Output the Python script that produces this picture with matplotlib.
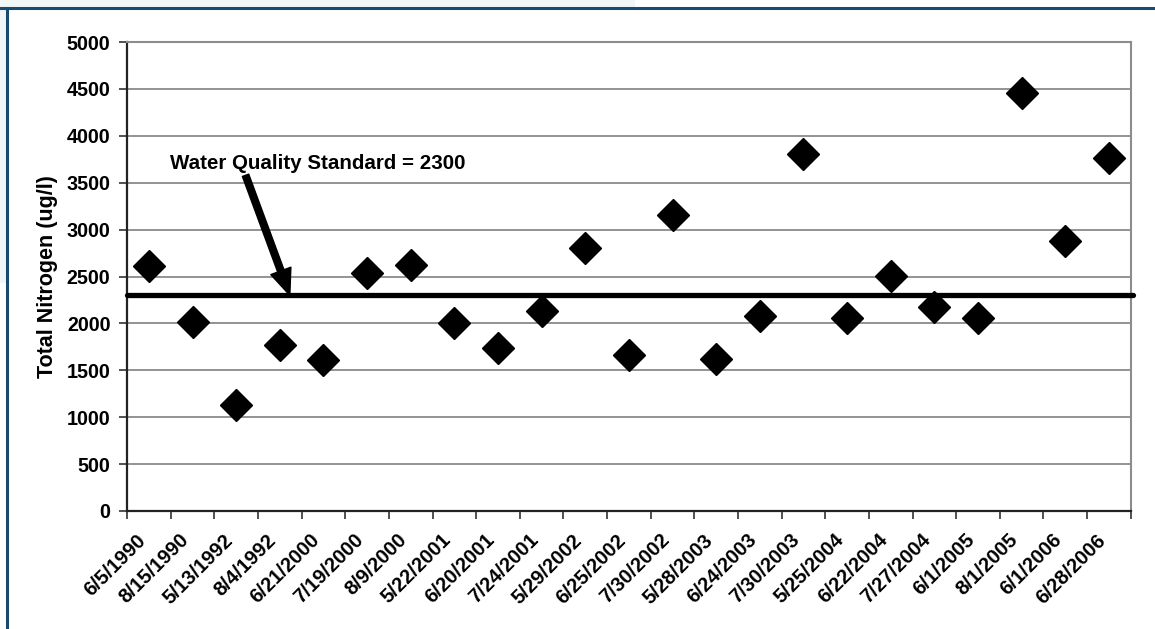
import matplotlib
matplotlib.use("Agg")
import matplotlib.pyplot as plt
from matplotlib.patches import Rectangle
from matplotlib.lines import Line2D

# sampling dates and total nitrogen results (ug/l)
dates = ["6/5/1990", "8/15/1990", "5/13/1992", "8/4/1992", "6/21/2000",
         "7/19/2000", "8/9/2000", "5/22/2001", "6/20/2001", "7/24/2001",
         "5/29/2002", "6/25/2002", "7/30/2002", "5/28/2003", "6/24/2003",
         "7/30/2003", "5/25/2004", "6/22/2004", "7/27/2004", "6/1/2005",
         "8/1/2005", "6/1/2006", "6/28/2006"]
total_nitrogen = [2610, 2015, 1135, 1765, 1605, 2535, 2625, 2000, 1740, 2135,
                  2800, 1665, 3155, 1625, 2080, 3805, 2060, 2510, 2175, 2060,
                  4455, 2880, 3765]
wq_standard = 2300
y_ticks = [0, 500, 1000, 1500, 2000, 2500, 3000, 3500, 4000, 4500, 5000]

plt.rcParams['font.family'] = ['Liberation Sans', 'DejaVu Sans']
plt.rcParams['font.weight'] = 'bold'

fig = plt.figure(figsize=(11.55, 6.29), dpi=100)
fig.patch.set_facecolor('white')

# light slide background strips and the dark blue frame
fig.patches.append(Rectangle((0, 0.985), 0.55, 0.015, transform=fig.transFigure,
                             facecolor='#f1f6f9', edgecolor='none', zorder=0))
fig.patches.append(Rectangle((0, 0.55), 0.005, 0.45, transform=fig.transFigure,
                             facecolor='#f1f6f9', edgecolor='none', zorder=0))
fig.lines.append(Line2D([0, 1], [0.988, 0.988], transform=fig.transFigure,
                        color='#1a4a6e', lw=2.2))
fig.lines.append(Line2D([0.0062, 0.0062], [0, 0.988], transform=fig.transFigure,
                        color='#1a4a6e', lw=2.2))

ax = fig.add_axes([0.110, 0.1876, 0.869, 0.7456])
x = list(range(len(dates)))

ax.plot(x, total_nitrogen, linestyle='none', marker='D', markersize=16,
        color='black', zorder=4, clip_on=False)
ax.plot([-0.5, len(dates) - 0.45], [wq_standard, wq_standard], color='black',
        lw=3.8, solid_capstyle='round', zorder=3, clip_on=False)

ax.annotate("Water Quality Standard = 2300", xy=(3.23, wq_standard),
            xytext=(0.485, 3710), textcoords='data', fontsize=14.8,
            fontweight='bold', va='center', ha='left', zorder=5,
            arrowprops=dict(arrowstyle='simple,head_length=0.85,head_width=0.7,tail_width=0.22',
                            mutation_scale=22, color='black',
                            shrinkA=0, shrinkB=0, relpos=(0.245, 0.3)))

ax.set_xlim(-0.5, len(dates) - 0.5)
ax.set_ylim(0, 5000)
ax.set_yticks(y_ticks)
ax.set_yticklabels([str(v) for v in y_ticks], fontsize=14.2, fontweight='bold')
# rotated date labels sit a little left of each category centre
ax.set_xticks([i - 0.3 for i in x])
ax.set_xticklabels(dates, rotation=45, ha='right', va='top',
                   rotation_mode='anchor', fontsize=14.5, fontweight='bold')
ax.set_xticks([i - 0.5 for i in range(len(dates) + 1)], minor=True)
ax.tick_params(axis='x', which='major', length=0, pad=14)
ax.tick_params(axis='x', which='minor', length=6, width=1.2, color='#333333',
               direction='out')
ax.tick_params(axis='y', length=6, width=1.2, color='#333333', direction='out',
               pad=6)
ax.set_ylabel("Total Nitrogen (ug/l)", fontsize=15.5, fontweight='bold',
              labelpad=6)

ax.grid(axis='y', color='#808080', lw=1.2)
ax.set_axisbelow(True)
for side in ['top', 'right']:
    ax.spines[side].set_color('#8c8c8c')
    ax.spines[side].set_linewidth(1.5)
for side in ['left', 'bottom']:
    ax.spines[side].set_color('#222222')
    ax.spines[side].set_linewidth(1.6)

fig.savefig("out.png", dpi=100, facecolor=fig.get_facecolor())
